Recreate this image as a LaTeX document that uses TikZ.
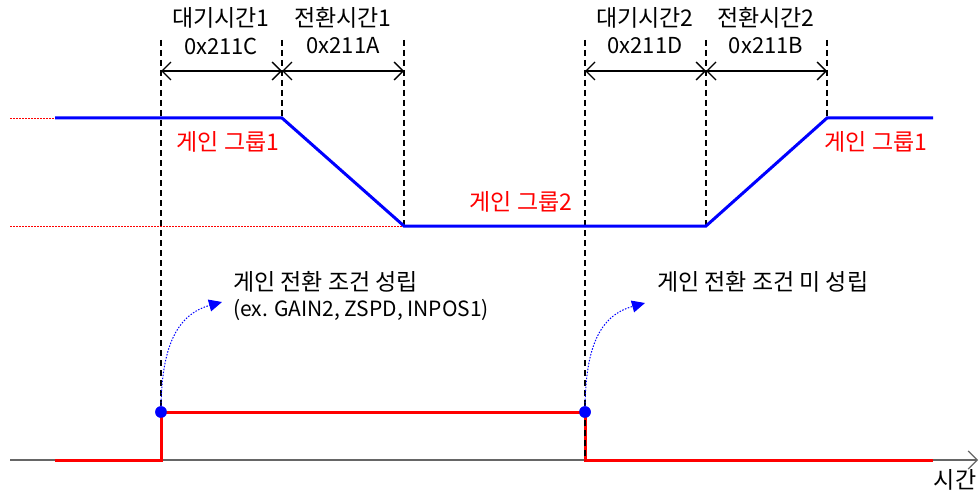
\documentclass[tikz,border=0pt]{standalone}
\usepackage{fontspec}
\setmainfont{Noto Sans CJK KR}
\usetikzlibrary{arrows.meta}
\begin{document}
\begin{tikzpicture}[x=1pt,y=-1pt,
  guide/.style={black, dash pattern=on 6pt off 4pt, line width=1.4pt},
  dim/.style={black, line width=1.4pt, {Straight Barb[length=9pt,width=18pt]}-{Straight Barb[length=9pt,width=18pt]}},
  gain/.style={blue, line width=3pt},
  sig/.style={red, line width=3pt},
  refl/.style={red, dash pattern=on 1.5pt off 1.5pt, line width=0.8pt},
  axisl/.style={black!60, line width=1.2pt, -{Straight Barb[length=9pt,width=18pt]}},
  lbl/.style={inner sep=0pt, font=\fontsize{23}{27}\selectfont},
  hex/.style={inner sep=0pt, font=\fontsize{22}{26}\selectfont},
  glbl/.style={lbl, text=red},
  hint/.style={blue, dash pattern=on 1.5pt off 1.5pt, line width=1pt, -{Triangle[length=13pt,width=12pt]}},
  dot/.style={circle, fill=blue, inner sep=0pt, minimum size=11.5pt}
]
\useasboundingbox (0,0) rectangle (979,492);
% key coordinates
\coordinate (t1) at (161,40); \coordinate (t2) at (282,40); \coordinate (t3) at (404,40);
\coordinate (t4) at (585,40); \coordinate (t5) at (706,40); \coordinate (t6) at (827,40);
\coordinate (d1) at (161,71); \coordinate (d2) at (282,71); \coordinate (d3) at (404,71);
\coordinate (d4) at (585,71); \coordinate (d5) at (706,71); \coordinate (d6) at (827,71);
\coordinate (b0) at (55,118); \coordinate (b1) at (282,118); \coordinate (b2) at (404,226);
\coordinate (b3) at (706,226); \coordinate (b4) at (827,118); \coordinate (b5) at (933,118);
\coordinate (r0) at (10,118); \coordinate (r1) at (10,226);
\coordinate (ax0) at (10,460); \coordinate (ax1) at (978,460);
\coordinate (s0) at (55,460); \coordinate (s1) at (161,460); \coordinate (s4) at (585,460); \coordinate (s5) at (933,460);
% reference dotted lines
\draw[refl] (r0) -- (b0);
\draw[refl] (r1) -- (b2);
% axis
\draw[axisl] (ax0) -- (ax1);
\node[lbl] (tl) at (955,480) {시간};
% signal
\node[dot] (p1) at (161,412) {};
\node[dot] (p2) at (585,412) {};
\draw[sig] (s0) -- (s1) -- (p1.center) -- (p2.center) -- (s4) -- (s5);
% guides
\draw[guide] (t1) -- (p1.center);
\draw[guide] (t2) -- (b1);
\draw[guide] (t3) -- (b2);
\draw[guide] (t4) -- (s4);
\draw[guide] (t5) -- (b3);
\draw[guide] (t6) -- (b4);
\node[dot] at (p1) {};
\node[dot] at (p2) {};
% gain profile
\draw[gain] (b0) -- (b1) -- (b2) -- (b3) -- (b4) -- (b5);
% dimension arrows
\draw[dim] (d1) -- (d2);
\draw[dim] (d2) -- (d3);
\draw[dim] (d4) -- (d5);
\draw[dim] (d5) -- (d6);
% dimension labels
\node[lbl] (w1) at (221,18) {대기시간1};
\node[hex] (w1c) at (221,46) {0x211C};
\node[lbl] (c1) at (343,18) {전환시간1};
\node[hex] (c1c) at (343,46) {0x211A};
\node[lbl] (w2) at (645,18) {대기시간2};
\node[hex] (w2c) at (645,46) {0x211D};
\node[lbl] (c2) at (766,18) {전환시간2};
\node[hex] (c2c) at (766,46) {0x211B};
% gain group labels
\node[glbl] (g1) at (228,142) {게인 그룹1};
\node[glbl] (g2) at (521,202) {게인 그룹2};
\node[glbl] (g3) at (876,142) {게인 그룹1};
% condition labels
\node[lbl, anchor=west] (k1) at (233,282) {게인 전환 조건 성립};
\node[hex, anchor=west, font=\fontsize{21}{25}\selectfont] (k1b) at (233,310) {(ex. GAIN2, ZSPD, INPOS1)};
\node[lbl, anchor=west] (k2) at (657,282) {게인 전환 조건 미 성립};
\coordinate (h1) at (222,302);
\coordinate (h2) at (645,303);
\draw[hint] (p1.north) .. controls (162,350) and (175,315) .. (h1);
\draw[hint] (p2.north) .. controls (586,350) and (598,316) .. (h2);
\end{tikzpicture}
\end{document}
